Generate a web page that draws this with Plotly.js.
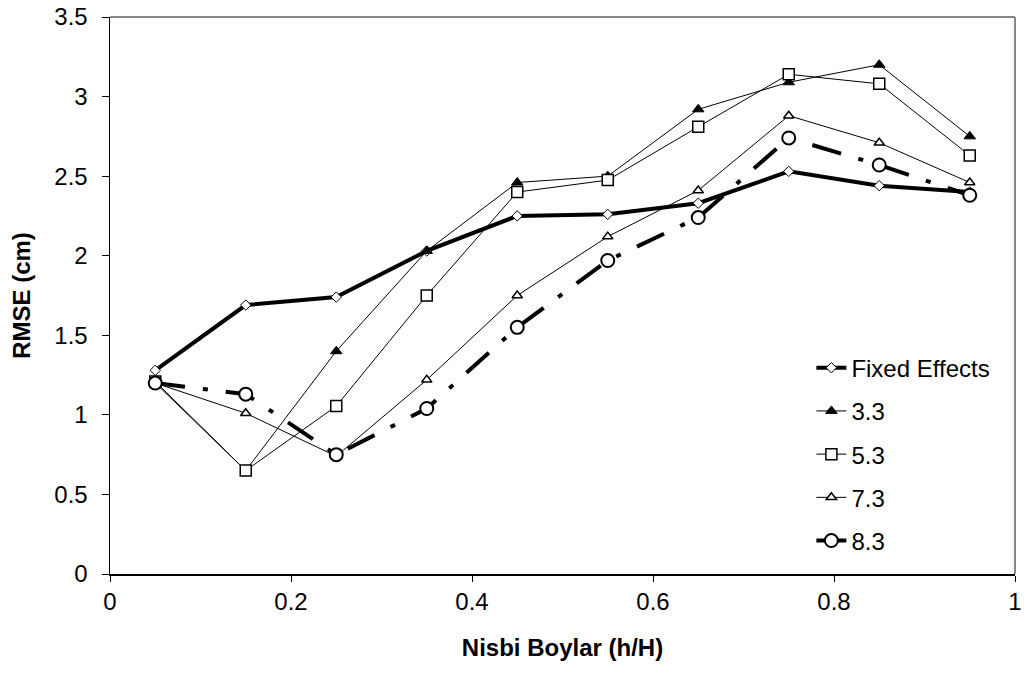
<!DOCTYPE html>
<html>
<head>
<meta charset="utf-8">
<script src="https://cdn.plot.ly/plotly-3.0.1.min.js"></script>
<style>html,body{margin:0;padding:0;background:#fff;}#chart{width:1024px;height:679px;}</style>
</head>
<body>
<div id="chart"></div>
<script>
var xValues = [0.05, 0.15, 0.25, 0.35, 0.45, 0.55, 0.65, 0.75, 0.85, 0.95];
var fixedEffects = [1.28, 1.69, 1.74, 2.03, 2.25, 2.26, 2.33, 2.53, 2.44, 2.40];
var s33 = [1.20, 0.65, 1.40, 2.03, 2.46, 2.50, 2.92, 3.09, 3.20, 2.75];
var s53 = [1.21, 0.65, 1.055, 1.75, 2.40, 2.475, 2.81, 3.14, 3.08, 2.63];
var s73 = [1.20, 1.01, 0.74, 1.22, 1.75, 2.12, 2.41, 2.88, 2.71, 2.46];
var s83 = [1.20, 1.13, 0.75, 1.04, 1.55, 1.97, 2.24, 2.74, 2.57, 2.38];
var seriesNames = ["Fixed Effects", "3.3", "5.3", "7.3", "8.3"];
var xTicks = [0, 0.2, 0.4, 0.6, 0.8, 1];
var yTicks = [0, 0.5, 1, 1.5, 2, 2.5, 3, 3.5];

var FONT = "Liberation Sans, Arial, sans-serif";
var FS = 24;
var traces = [
  {x: xValues, y: fixedEffects, name: seriesNames[0], legendgroup: "a", mode: "lines+markers",
   line: {color: "#000", width: 4},
   marker: {symbol: "diamond", size: 8, color: "#fff", line: {color: "#000", width: 1}}},
  {x: xValues, y: s33, name: seriesNames[1], legendgroup: "b", mode: "lines+markers",
   line: {color: "#000", width: 1},
   marker: {symbol: "triangle-up", size: 10, color: "#000", line: {color: "#000", width: 1}}},
  {x: xValues, y: s53, name: seriesNames[2], legendgroup: "c", mode: "lines+markers",
   line: {color: "#000", width: 1},
   marker: {symbol: "square", size: 11, color: "#fff", line: {color: "#000", width: 1.5}}},
  {x: xValues, y: s73, name: seriesNames[3], legendgroup: "d", mode: "lines+markers",
   line: {color: "#000", width: 1},
   marker: {symbol: "triangle-up", size: 9, color: "#fff", line: {color: "#000", width: 1.5}}},
  {x: xValues, y: s83, name: seriesNames[4], legendgroup: "e", mode: "lines+markers",
   line: {color: "#000", width: 4, dash: "30px,18px,5px,18px"},
   marker: {symbol: "circle", size: 13, color: "#fff", line: {color: "#000", width: 2}}}
];

var layout = {
  width: 1024, height: 679,
  margin: {l: 110, r: 9, t: 17, b: 105},
  paper_bgcolor: "#fff", plot_bgcolor: "#fff",
  font: {family: FONT, size: FS, color: "#000"},
  showlegend: true,
  legend: {x: 0.775, y: 0.41, xanchor: "left", yanchor: "top", bgcolor: "rgba(0,0,0,0)",
           traceorder: "grouped", tracegroupgap: 9, font: {family: FONT, size: FS, color: "#000"}},
  xaxis: {range: [0, 1], tickvals: xTicks, ticktext: xTicks.map(String),
          showgrid: false, zeroline: false, showline: true, linecolor: "#000", linewidth: 1.5,
          ticks: "outside", ticklen: 6, tickcolor: "#000", tickfont: {size: FS},
          title: {text: "<b>Nisbi Boylar (h/H)</b>", font: {size: FS}, standoff: 25}},
  yaxis: {range: [0, 3.5], tickvals: yTicks, ticktext: yTicks.map(String),
          showgrid: false, zeroline: false, showline: true, linecolor: "#000", linewidth: 1.5,
          ticks: "outside", ticklen: 7, tickcolor: "#000", tickfont: {size: FS}, ticklabelstandoff: 9,
          title: {text: "<b>RMSE (cm)</b>", font: {size: FS}, standoff: 17}},
  shapes: [
    {type: "line", xref: "paper", yref: "paper", x0: 0, x1: 1, y0: 1, y1: 1, line: {color: "#888", width: 2}},
    {type: "line", xref: "paper", yref: "paper", x0: 1, x1: 1, y0: 0, y1: 1, line: {color: "#888", width: 2}}
  ]
};

Plotly.newPlot("chart", traces, layout, {staticPlot: true, displayModeBar: false});
</script>
</body>
</html>
